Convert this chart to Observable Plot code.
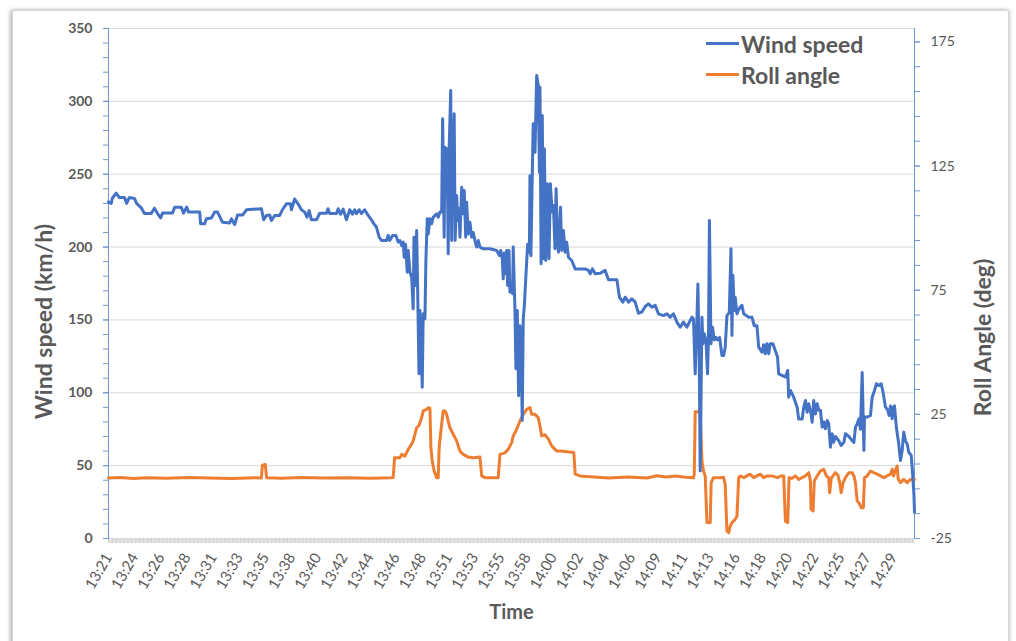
<!DOCTYPE html>
<html><head><meta charset="utf-8">
<script src="https://cdn.jsdelivr.net/npm/d3@7"></script>
<script src="https://cdn.jsdelivr.net/npm/@observablehq/plot@0.6"></script>
<style>
body{margin:0;background:#fff;font-family:Lato,sans-serif;}
#wrap{position:relative;width:1016px;height:641px;overflow:hidden;background:#fff;}
#frame{position:absolute;left:12px;top:10px;width:995px;height:720px;border:1px solid #d6d6d6;box-shadow:-2px 0 4px rgba(0,0,0,.28),2px 0 3px rgba(0,0,0,.12);background:#fff;}
#chart{position:absolute;left:0;top:0;}
.legend{position:absolute;left:706px;top:28px;font:bold 23px Lato,sans-serif;color:#595959;}
.row{display:flex;align-items:center;height:31px;}
.sw{width:33px;height:3px;margin-right:2px;}
</style></head><body>
<div id="wrap"><div id="frame"></div><div id="chart"></div>
<div class="legend" id="legend"></div></div>
<script>
// ---- data ----
const timeLabels = ["13:21","13:24","13:26","13:28","13:31","13:33","13:35","13:38","13:40","13:42","13:44","13:46","13:48","13:51","13:53","13:55","13:58","14:00","14:02","14:04","14:06","14:09","14:11","14:13","14:16","14:18","14:20","14:22","14:25","14:27","14:29"];
const labelStep = 136;          // seconds between labelled samples
const endSeconds = 4190;        // last sample (s)
const windTicks = [0,50,100,150,200,250,300,350];
const rollTicks = [-25,25,75,125,175];
const rollRange = [-25,180.4];
const seriesNames = ["Wind speed","Roll angle"];
const seriesColors = ["#4472C4","#ED7D31"];

// [seconds since start, km/h]
const wind = [
[0,231],[14,230],[20,233.5],[40,237],[57,234],[83,234],[94,230],[109,234],[135,233.4],[146,230],[170,227],[187,223],[222,223],[239,226.7],[255,223],[271,220],[281,223.3],[333,223.3],[344,227.4],[378,227.4],[390,223.3],[406,227.4],[416,224],[474,224],[479,216],[500,216],[509,219.4],[535,220],[552,224],[567,224],[593,217],[630,216.6],[639,219.4],[656,215.5],[671,222],[697,222],[717,225.6],[795,226.3],[807,218.7],[821,221.7],[838,222],[847,218.2],[864,221.7],[890,221.7],[904,225.6],[925,229.7],[946,229.7],[951,225.6],[968,233],[985,229.7],[1003,225.6],[1020,224],[1032,220.5],[1043,225],[1055,218.7],[1081,218.7],[1098,223.2],[1133,223.2],[1141,226.3],[1150,223],[1185,223],[1194,226.3],[1206,222.5],[1220,226],[1237,218.7],[1254,225.6],[1268,222.5],[1280,225.6],[1289,223],[1303,225.6],[1315,223],[1332,225.6],[1350,221.7],[1367,218.7],[1379,216],[1393,213.7],[1407,206.8],[1419,204.5],[1445,204.5],[1454,208],[1462,204.5],[1477,208],[1494,208],[1506,203.4],[1515,204.5],[1524,201],[1532,203.4],[1537,193],[1544,202],[1553,182.8],[1558,197.7],[1567,182.8],[1576,179.3],[1584,157.6],[1588,206.8],[1596,173.6],[1602,211.4],[1607,172.5],[1614,113],[1619,156.5],[1631,103.8],[1636,154.2],[1645,150.8],[1650,190.8],[1657,219.4],[1662,209],[1671,219.4],[1680,216],[1688,220.5],[1697,221.7],[1706,222.8],[1714,220.5],[1723,224],[1732,224],[1737,288],[1745,206.8],[1749,268.5],[1758,267.4],[1761,255],[1766,195.4],[1771,268.5],[1779,307.5],[1784,204.5],[1787,257],[1792,268.5],[1797,291.5],[1802,204.5],[1810,235.4],[1815,218.2],[1822,226.3],[1827,206.8],[1836,241],[1844,222.8],[1849,238.8],[1857,206.8],[1862,230.8],[1870,209],[1879,217],[1888,206.8],[1896,210],[1905,204.5],[1914,200],[1922,204.5],[1931,200],[1948,198.8],[1983,198.8],[2018,197.7],[2032,194.2],[2039,197.7],[2047,192],[2052,178.2],[2058,196],[2065,181.7],[2070,197.7],[2075,173.6],[2082,197.7],[2087,169],[2096,173.6],[2101,168],[2104,200],[2113,156.5],[2118,116.5],[2125,156.5],[2132,98],[2139,146],[2144,130],[2151,81],[2156,150.8],[2162,160],[2170,180.5],[2179,202],[2188,196.5],[2191,249],[2196,194],[2203,250],[2208,284.6],[2217,265],[2226,317.7],[2234,310.8],[2240,251.4],[2243,309.7],[2249,188.5],[2255,290.3],[2261,192],[2266,267.4],[2273,190.8],[2281,243.4],[2290,192],[2297,243.4],[2306,224],[2313,228.5],[2321,198.8],[2327,240],[2333,208],[2339,196.5],[2350,227.4],[2356,197.7],[2365,211.4],[2373,196.5],[2382,203.4],[2391,193],[2408,190.8],[2426,185],[2478,185],[2495,184],[2504,181.7],[2516,185],[2530,181.7],[2556,182],[2582,184],[2599,177.5],[2643,177.5],[2656,165.6],[2674,162.2],[2686,165.6],[2703,162.2],[2721,164.5],[2738,162.2],[2755,154.6],[2773,155.5],[2790,159.2],[2807,161],[2825,158.8],[2842,160],[2859,154.2],[2885,153],[2903,154.2],[2920,151.9],[2937,154.2],[2955,148.5],[2972,145],[2989,148.5],[3007,145],[3024,149.6],[3033,151.9],[3041,150.8],[3050,113],[3059,150.8],[3064,174.7],[3071,122],[3076,46.3],[3085,151.9],[3090,133.6],[3097,140.5],[3106,136],[3114,113],[3119,138],[3124,218.2],[3132,133.6],[3140,145],[3149,136.3],[3158,138],[3166,136.3],[3177,138],[3189,125.6],[3198,125.6],[3206,131.3],[3215,153],[3227,155],[3236,198.8],[3241,139.3],[3246,180.5],[3253,156.5],[3258,165.6],[3267,154.2],[3276,157],[3284,158.8],[3293,160],[3302,154.2],[3328,151.9],[3345,151.9],[3357,146],[3371,146],[3380,131.3],[3397,127.9],[3406,133],[3414,126.8],[3423,133.6],[3432,126.8],[3440,133.6],[3454,133.6],[3466,129],[3478,124.5],[3484,113],[3501,111.9],[3519,110.8],[3531,115.3],[3536,97],[3545,101.6],[3562,97],[3580,90],[3588,82],[3606,82],[3614,90],[3623,94.7],[3632,86.6],[3640,92.5],[3652,85.5],[3658,79.8],[3666,94.7],[3675,85.5],[3684,92.5],[3692,88],[3701,88],[3710,76.4],[3718,80],[3727,75.3],[3736,81],[3744,79],[3753,62.7],[3762,71.9],[3770,66.1],[3779,70],[3796,67.2],[3809,63.8],[3823,66],[3831,71.9],[3849,70],[3866,67.2],[3875,66],[3883,76.4],[3892,78.7],[3901,82.2],[3909,75],[3918,114],[3927,60.4],[3930,83.3],[3944,83.3],[3961,84.4],[3970,97],[3982,101.6],[3992,106.2],[4004,105],[4017,106.2],[4027,100],[4039,90.3],[4051,88],[4058,84.4],[4065,91],[4074,82.2],[4079,90],[4086,91],[4096,76],[4108,65],[4117,53.5],[4126,60.4],[4134,73],[4143,67],[4152,64.9],[4160,59.2],[4173,57],[4178,48.6],[4187,30.4],[4190,18]
];

// [seconds since start, degrees]
const roll = [
[0,-0.6],[60,-0.4],[130,-0.8],[200,-0.5],[300,-0.7],[420,-0.4],[520,-0.6],[640,-0.8],[760,-0.5],[795,-0.6],[800,4.5],[815,4.8],[822,-0.5],[900,-0.7],[1000,-0.4],[1120,-0.6],[1240,-0.5],[1360,-0.7],[1470,-0.5],[1480,-0.4],[1487,7.5],[1515,7.5],[1524,8.9],[1541,8.2],[1558,10.9],[1576,13],[1584,14.3],[1593,17],[1602,19.6],[1614,20.5],[1628,23.7],[1636,26.4],[1654,27],[1662,27.7],[1671,27.5],[1676,11.6],[1683,6.2],[1693,2.2],[1706,-0.5],[1714,-0.5],[1719,11.6],[1726,17],[1732,21],[1740,26.4],[1749,26.4],[1758,25],[1766,22.3],[1775,19.6],[1792,17],[1810,14.3],[1827,10.2],[1844,8.9],[1870,7.8],[1896,7.5],[1931,7.8],[1940,0.2],[1957,-0.5],[2026,-0.5],[2035,8.9],[2061,9.5],[2078,10.9],[2096,13.6],[2104,16.3],[2122,19],[2139,22.3],[2156,25],[2174,27],[2191,27.7],[2200,25],[2217,25],[2234,23.7],[2243,20.3],[2252,16.3],[2269,16.8],[2287,15],[2304,12.3],[2330,10.2],[2350,10.2],[2419,9.6],[2426,0.9],[2452,0.2],[2521,-0.2],[2600,-0.6],[2700,-0.2],[2800,-0.6],[2850,0.3],[2900,-0.2],[2950,0.2],[3000,-0.3],[3041,-0.5],[3045,0.9],[3050,26],[3076,26],[3085,6.2],[3093,2.2],[3102,0.2],[3111,-18.6],[3128,-18.6],[3133,-2.5],[3145,-0.5],[3180,-0.5],[3197,-0.3],[3206,-3.2],[3215,-22],[3224,-22.7],[3232,-20],[3241,-18.6],[3258,-17.3],[3267,-16],[3276,-0.5],[3284,0.2],[3302,-0.5],[3336,0.9],[3354,-0.5],[3371,0.2],[3389,0.9],[3406,-0.5],[3423,0.2],[3449,0.2],[3478,-0.5],[3497,0.2],[3510,0.2],[3519,-18],[3531,-18.6],[3538,-0.5],[3554,-0.7],[3571,0.2],[3588,-1.2],[3606,-0.5],[3623,0.2],[3640,1.5],[3649,-1.8],[3652,-13.2],[3663,-13.9],[3669,-1.8],[3684,0.2],[3701,2.2],[3718,2.9],[3732,0.2],[3744,-0.5],[3749,-6.6],[3757,-0.8],[3779,1.5],[3792,0.5],[3801,-2.5],[3809,-6.6],[3819,-2.5],[3831,-0.5],[3849,1.5],[3866,1.5],[3875,0.2],[3883,-2.5],[3892,-9.9],[3901,-10.6],[3913,-12.6],[3924,-12.6],[3930,-0.5],[3944,0.2],[3961,2.2],[3978,1.5],[3996,0.9],[4013,0.2],[4030,-0.5],[4048,0.2],[4065,0.9],[4074,2.9],[4081,0.2],[4093,2.9],[4100,4.2],[4105,-1],[4117,-2.5],[4134,-1.2],[4152,-2.5],[4169,-1.2],[4190,-1.2]
];

// ---- chart ----
const windMax = windTicks[windTicks.length-1];
const toY = r => (r - rollRange[0]) / (rollRange[1] - rollRange[0]) * windMax;
const fromY = v => rollRange[0] + v / windMax * (rollRange[1] - rollRange[0]);
const axisBlue = "#6f97d6";
const grey = "#595959";
const labelTicks = timeLabels.map((_, i) => i * labelStep);

const chart = Plot.plot({
  width: 1016, height: 641,
  marginLeft: 108, marginRight: 102, marginTop: 28, marginBottom: 103,
  style: {fontFamily: "Lato, sans-serif", background: "transparent", color: grey, overflow: "visible"},
  x: {domain: [0, endSeconds]},
  y: {domain: [0, windMax]},
  marks: [
    Plot.gridY(windTicks.slice(1), {stroke: "#d9d9d9", strokeOpacity: 1}),
    // x axis tick band + labels
    Plot.axisX(d3.range(0, endSeconds + 1, 7), {tickSize: 5, tickFormat: () => "", stroke: "#cfcfcf", strokeOpacity: 1, label: null}),
    Plot.frame({anchor: "bottom", stroke: "#d9d9d9"}),
    Plot.axisX(labelTicks, {tickSize: 0, tickPadding: 16, tickRotate: -60, fontSize: 15, fill: grey,
      tickFormat: d => timeLabels[Math.round(d / labelStep)], label: null}),
    // left axis
    Plot.axisY(d3.range(0, windMax + 1, 10), {anchor: "left", tickSize: 5, tickFormat: () => "", stroke: axisBlue, label: null}),
    Plot.axisY(windTicks, {anchor: "left", tickSize: 5, tickPadding: 11, fontSize: 14, fontWeight: "bold", fill: grey, stroke: axisBlue, label: null}),
    Plot.frame({anchor: "left", stroke: axisBlue}),
    // right axis (roll)
    Plot.axisY(d3.range(rollTicks[0], rollTicks[rollTicks.length-1] + 1, 10).map(toY), {anchor: "right", tickSize: 5, tickFormat: () => "", stroke: axisBlue, label: null}),
    Plot.axisY(rollTicks.map(toY), {anchor: "right", tickSize: 5, tickPadding: 11, fontSize: 14, fill: grey, stroke: axisBlue,
      tickFormat: v => Math.round(fromY(v)), label: null}),
    Plot.frame({anchor: "right", stroke: axisBlue}),
    // series
    Plot.line(roll, {x: d => d[0], y: d => toY(d[1]), stroke: seriesColors[1], strokeWidth: 3, strokeLinejoin: "round"}),
    Plot.line(wind, {x: d => d[0], y: d => d[1], stroke: seriesColors[0], strokeWidth: 3, strokeLinejoin: "round"}),
    // titles
    Plot.text(["Wind speed (km/h)"], {text: d => d, frameAnchor: "left", textAnchor: "middle", dx: -64, dy: 38, rotate: -90, fontSize: 23, fontWeight: "bold", fill: grey}),
    Plot.text(["Roll Angle (deg)"], {text: d => d, frameAnchor: "right", textAnchor: "middle", dx: 69, dy: 54, rotate: -90, fontSize: 23, fontWeight: "bold", fill: grey}),
    Plot.text(["Time"], {text: d => d, frameAnchor: "bottom", textAnchor: "middle", dy: 80, fontSize: 20, fontWeight: "bold", fill: grey})
  ]
});
document.getElementById("chart").appendChild(chart);

const legend = document.getElementById("legend");
seriesNames.forEach((n, i) => {
  const row = document.createElement("div"); row.className = "row";
  const sw = document.createElement("span"); sw.className = "sw"; sw.style.background = seriesColors[i];
  const t = document.createElement("span"); t.textContent = n;
  row.appendChild(sw); row.appendChild(t); legend.appendChild(row);
});
</script>
</body></html>
